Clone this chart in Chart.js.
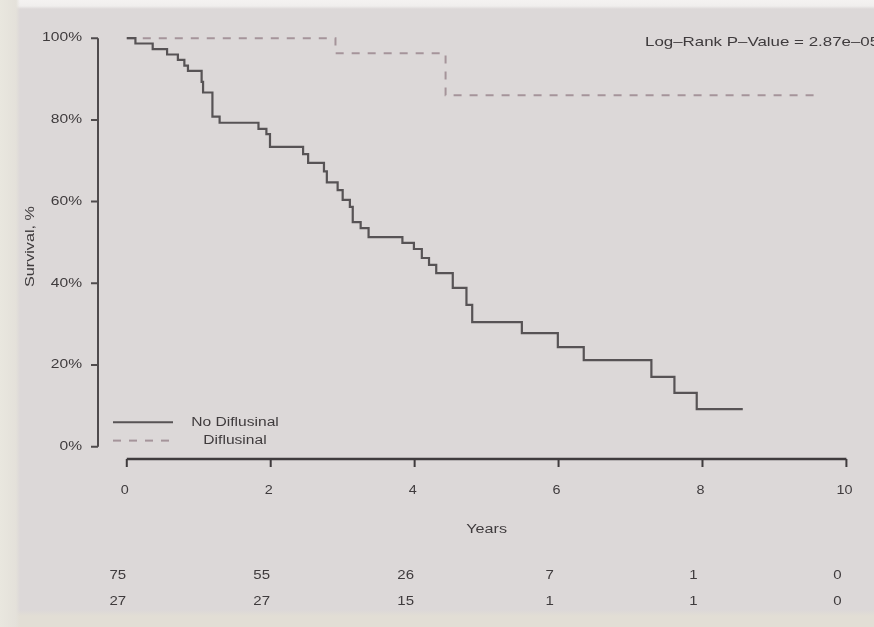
<!DOCTYPE html>
<html>
<head>
<meta charset="utf-8">
<script src="https://cdn.jsdelivr.net/npm/chart.js@4"></script>
<style>
  html, body { margin: 0; padding: 0; }
  body {
    width: 874px; height: 627px; overflow: hidden;
    background:
      linear-gradient(to right, #e9e7df 0px, #e4e1da 16px, rgba(0,0,0,0) 20px),
      linear-gradient(to bottom, #f4f2f1 0px, #f0eeed 6px, rgba(0,0,0,0) 9px),
      linear-gradient(to bottom, rgba(0,0,0,0) 610px, #e2ded5 616px),
      #dcd8d8;
  }
  canvas { display: block; }
</style>
</head>
<body>
<canvas id="km" width="874" height="627"></canvas>
<script>
// Kaplan-Meier estimates (time in years, survival in %)
const noDiffTime = [0, 0.12, 0.36, 0.56, 0.71, 0.80, 0.85, 1.04, 1.06, 1.19, 1.29, 1.83, 1.94, 1.99,
  2.45, 2.52, 2.74, 2.78, 2.93, 3.0, 3.1, 3.14, 3.25, 3.36, 3.83, 3.99, 4.1, 4.2, 4.3,
  4.53, 4.72, 4.80, 5.49, 5.99, 6.35, 7.29, 7.61, 7.92, 8.56];
const noDiffSurv = [100, 98.7, 97.3, 96, 94.7, 93.3, 92, 89.3, 86.7, 80.8, 79.3, 77.8, 76.5, 73.4,
  71.6, 69.5, 67.4, 64.7, 62.8, 60.4, 58.7, 55, 53.5, 51.3, 49.9, 48.4, 46.2, 44.5, 42.5,
  38.9, 34.7, 30.5, 27.8, 24.4, 21.2, 17.1, 13.2, 9.2, 9.2];

const diffTime = [0, 2.90, 4.43, 9.55];
const diffSurv = [100, 96.3, 86, 86];

const xTicks = [0, 2, 4, 6, 8, 10];
const yTicks = [0, 20, 40, 60, 80, 100];

// numbers at risk under each x tick
const riskNoDiff = [75, 55, 26, 7, 1, 0];
const riskDiff = [27, 27, 15, 1, 1, 0];

const seriesNames = ['No Diflusinal', 'Diflusinal'];
const pValueText = 'Log\u2013Rank P\u2013Value = 2.87e\u201305';

const solidColor = '#575355';
const dashColor = '#a5949a';
const textColor = '#3f3b3d';
const dashPattern = [8, 8];

function toPoints(xs, ys) {
  return xs.map((x, i) => ({ x: x, y: ys[i] }));
}

// text in the plot is a bit wide, so stretch it horizontally
function wideText(ctx, s, x, y, align, size, sx) {
  ctx.save();
  ctx.font = size + 'px "Liberation Sans", Arial, sans-serif';
  ctx.fillStyle = textColor;
  ctx.textBaseline = 'middle';
  ctx.textAlign = align;
  ctx.translate(x, y);
  ctx.scale(sx, 1);
  ctx.fillText(s, 0, 0);
  ctx.restore();
}

// R-style detached axes, legend, p-value and risk table
const baseAxes = {
  id: 'baseAxes',
  afterDraw(chart) {
    const ctx = chart.ctx;
    const xs = chart.scales.x;
    const ys = chart.scales.y;
    const area = chart.chartArea;

    ctx.save();
    ctx.strokeStyle = '#4f4b4d';
    ctx.lineCap = 'butt';

    // y axis
    const yx = area.left;
    ctx.lineWidth = 2;
    ctx.beginPath();
    ctx.moveTo(yx, ys.getPixelForValue(yTicks[0]));
    ctx.lineTo(yx, ys.getPixelForValue(yTicks[yTicks.length - 1]));
    yTicks.forEach(v => {
      const py = ys.getPixelForValue(v);
      ctx.moveTo(yx, py);
      ctx.lineTo(yx - 7, py);
    });
    ctx.stroke();
    yTicks.forEach(v => {
      wideText(ctx, v + '%', yx - 16, ys.getPixelForValue(v), 'right', 12, 1.3);
    });

    // x axis
    const xy = area.bottom;
    ctx.lineWidth = 2.6;
    ctx.strokeStyle = '#3f3b3d';
    ctx.beginPath();
    ctx.moveTo(xs.getPixelForValue(xTicks[0]), xy);
    ctx.lineTo(xs.getPixelForValue(xTicks[xTicks.length - 1]), xy);
    ctx.stroke();
    ctx.lineWidth = 2;
    ctx.beginPath();
    xTicks.forEach(v => {
      const px = xs.getPixelForValue(v);
      ctx.moveTo(px, xy);
      ctx.lineTo(px, xy + 8);
    });
    ctx.stroke();
    xTicks.forEach((v, i) => {
      const px = xs.getPixelForValue(v);
      wideText(ctx, String(v), px - 2, xy + 32, 'center', 12, 1.2);
      wideText(ctx, String(riskNoDiff[i]), px - 9, xy + 117, 'center', 12, 1.25);
      wideText(ctx, String(riskDiff[i]), px - 9, xy + 143, 'center', 12, 1.25);
    });

    // axis titles
    wideText(ctx, 'Years', (xs.getPixelForValue(0) + xs.getPixelForValue(10)) / 2, xy + 71, 'center', 12, 1.35);
    ctx.save();
    ctx.translate(31, ys.getPixelForValue(49));
    ctx.rotate(-Math.PI / 2);
    wideText(ctx, 'Survival, %', 0, 0, 'center', 12, 1.35);
    ctx.restore();

    // legend in the lower left
    const lx = area.left + 15;
    const ly1 = ys.getPixelForValue(6);
    const ly2 = ys.getPixelForValue(1.5);
    ctx.lineWidth = 2;
    ctx.strokeStyle = solidColor;
    ctx.beginPath();
    ctx.moveTo(lx, ly1);
    ctx.lineTo(lx + 60, ly1);
    ctx.stroke();
    ctx.strokeStyle = dashColor;
    ctx.setLineDash(dashPattern);
    ctx.beginPath();
    ctx.moveTo(lx, ly2);
    ctx.lineTo(lx + 60, ly2);
    ctx.stroke();
    ctx.setLineDash([]);
    wideText(ctx, seriesNames[0], lx + 122, ly1, 'center', 12, 1.3);
    wideText(ctx, seriesNames[1], lx + 122, ly2, 'center', 12, 1.3);

    // log-rank p-value, top right
    wideText(ctx, pValueText, 645, ys.getPixelForValue(99), 'left', 13, 1.3);

    ctx.restore();
  }
};

new Chart(document.getElementById('km').getContext('2d'), {
  type: 'line',
  data: {
    datasets: [{
      label: seriesNames[0],
      data: toPoints(noDiffTime, noDiffSurv),
      borderColor: solidColor,
      borderWidth: 2.2,
      stepped: 'before',
      pointRadius: 0,
      fill: false
    }, {
      label: seriesNames[1],
      data: toPoints(diffTime, diffSurv),
      borderColor: dashColor,
      borderWidth: 2,
      borderDash: dashPattern,
      stepped: 'before',
      pointRadius: 0,
      fill: false
    }]
  },
  options: {
    responsive: false,
    animation: false,
    layout: { padding: { left: 98, right: 6, top: 30, bottom: 168 } },
    scales: {
      x: { type: 'linear', min: -0.4, max: 10.3, display: false },
      y: { min: -3, max: 102, display: false }
    },
    plugins: {
      legend: { display: false },
      tooltip: { enabled: false }
    }
  },
  plugins: [baseAxes]
});
</script>
</body>
</html>
